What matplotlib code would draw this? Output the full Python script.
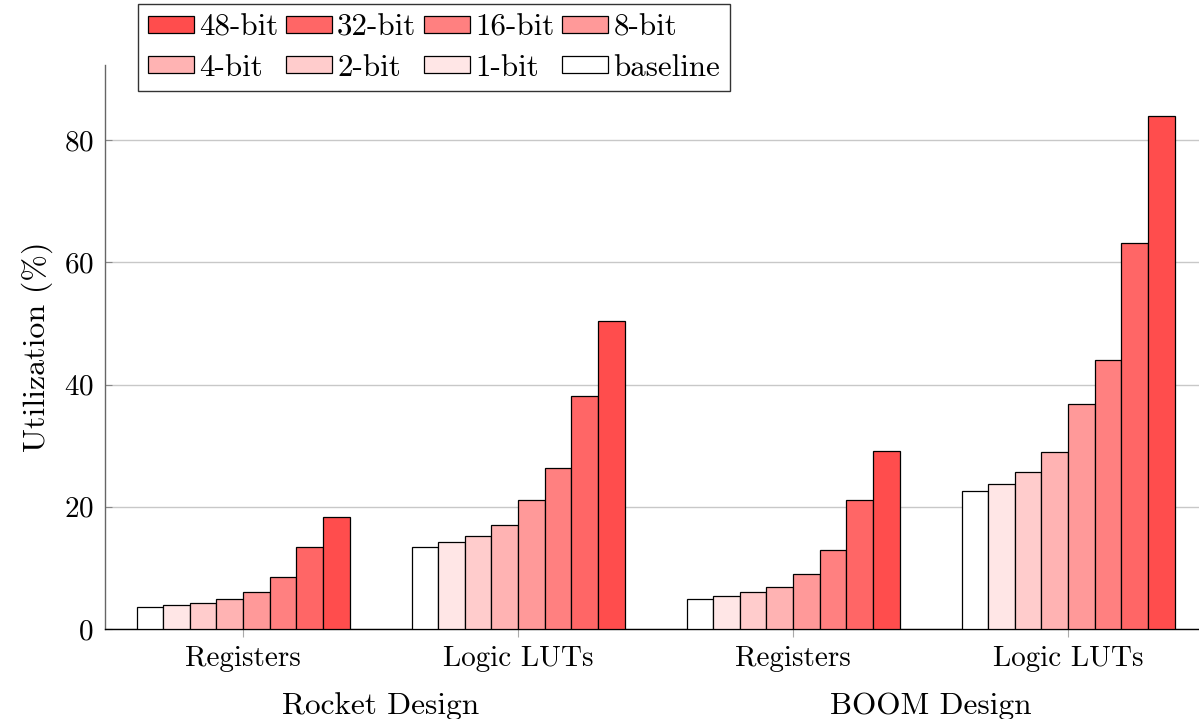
#!/usr/bin/env python3
"""Grouped bar chart: FPGA utilization of Rocket / BOOM designs per counter width."""

import matplotlib

matplotlib.use("Agg")
import matplotlib.pyplot as plt
import matplotlib.transforms as mtransforms
import numpy as np

plt.rcParams["font.family"] = ["cmr10", "DejaVu Serif"]
plt.rcParams["mathtext.fontset"] = "cm"
plt.rcParams["axes.formatter.use_mathtext"] = True

CATEGORIES = ["Registers", "Logic LUTs", "Registers", "Logic LUTs"]
DESIGNS = ["Rocket Design", "BOOM Design"]
SERIES = ["baseline", "1-bit", "2-bit", "4-bit", "8-bit", "16-bit", "32-bit", "48-bit"]
VALUES = {
    "baseline": [3.6, 13.5, 4.85, 22.6],
    "1-bit": [3.9, 14.2, 5.4, 23.7],
    "2-bit": [4.25, 15.25, 6.0, 25.75],
    "4-bit": [4.95, 17.1, 6.9, 28.9],
    "8-bit": [6.1, 21.05, 8.95, 36.9],
    "16-bit": [8.55, 26.4, 12.9, 44.1],
    "32-bit": [13.45, 38.1, 21.05, 63.2],
    "48-bit": [18.35, 50.4, 29.05, 84.0],
}
COLORS = {
    "baseline": "#FFFFFF",
    "1-bit": "#FFE6E6",
    "2-bit": "#FFCCCC",
    "4-bit": "#FFB3B3",
    "8-bit": "#FF9999",
    "16-bit": "#FF8080",
    "32-bit": "#FF6666",
    "48-bit": "#FF4D4D",
}
LEGEND_ORDER = ["48-bit", "32-bit", "16-bit", "8-bit", "4-bit", "2-bit", "1-bit", "baseline"]

TICK_FS = 21
GROUP_FS = 22.5
LEGEND_FS = 22.3
LABEL_FS = 23


def main() -> None:
    fig = plt.figure(figsize=(11.99, 7.19), dpi=100)
    ax = fig.add_axes([105 / 1199, 90 / 719, 1 - 105 / 1199, 564 / 719])

    x = np.arange(len(CATEGORIES))
    width = 0.0968
    handles = {}
    for i, name in enumerate(SERIES):
        bars = ax.bar(
            x + (i - 3.5) * width,
            VALUES[name],
            width,
            color=COLORS[name],
            edgecolor="black",
            linewidth=0.9,
            label=name,
            zorder=3,
        )
        handles[name] = bars

    ax.set_xlim(-0.502, 3.476)
    ax.set_ylim(0, 92.3)
    ax.set_yticks([0, 20, 40, 60, 80])
    ax.set_xticks(x)
    ax.set_xticklabels(CATEGORIES)
    ax.yaxis.grid(True, color="#c8c8c8", linewidth=1.0, zorder=0)
    ax.set_axisbelow(True)

    for side in ("top", "right"):
        ax.spines[side].set_visible(False)
    ax.spines["left"].set_color("#666666")
    ax.spines["bottom"].set_color("black")
    ax.spines["left"].set_linewidth(1.0)
    ax.spines["bottom"].set_linewidth(1.0)

    ax.tick_params(axis="y", direction="in", length=5, color="#888888",
                   labelsize=TICK_FS, pad=8)
    ax.tick_params(axis="x", direction="out", length=6, color="#aaaaaa",
                   labelsize=TICK_FS, pad=6)
    ax.set_ylabel("Utilization (%)", fontsize=LABEL_FS, labelpad=8)

    trans = mtransforms.blended_transform_factory(ax.transData, ax.transAxes)
    for j, design in enumerate(DESIGNS):
        ax.text(2 * j + 0.5, -0.137, design, transform=trans, ha="center",
                va="center", fontsize=GROUP_FS)

    order = [LEGEND_ORDER[k] for k in (0, 4, 1, 5, 2, 6, 3, 7)]
    leg = fig.legend(
        [handles[n] for n in order],
        order,
        loc="upper left",
        bbox_to_anchor=(138 / 1199, 1 - 4 / 719),
        bbox_transform=fig.transFigure,
        ncol=4,
        fontsize=LEGEND_FS,
        frameon=True,
        fancybox=False,
        borderaxespad=0,
        handlelength=1.48,
        handleheight=0.48,
        handletextpad=0.17,
        columnspacing=0.25,
        labelspacing=0.38,
        borderpad=0.32,
    )
    leg.get_frame().set_edgecolor("black")
    leg.get_frame().set_linewidth(1.0)

    fig.savefig("out.png", dpi=100)


if __name__ == "__main__":
    main()
